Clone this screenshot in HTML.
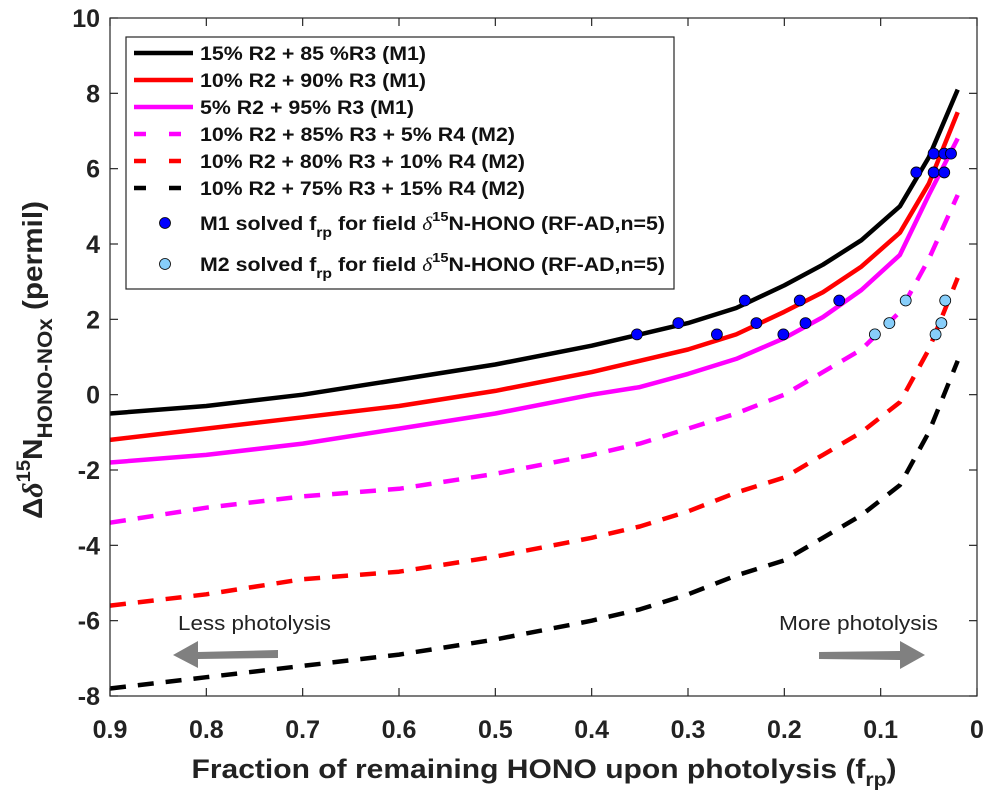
<!DOCTYPE html>
<html><head><meta charset="utf-8"><style>
html,body{margin:0;padding:0;background:#fff;}
svg{display:block;font-family:"Liberation Sans",Arial,sans-serif;}
</style></head><body>
<svg id="chart" width="995" height="803" viewBox="0 0 995 803" xmlns="http://www.w3.org/2000/svg">
<rect width="995" height="803" fill="#fff"/>
<g id="grid"></g>
<g id="series"></g>
<g id="points"></g>
<rect x="110" y="18" width="867" height="678" fill="none" stroke="#262626" stroke-width="1.2"/>
<g>
<rect x="126" y="37" width="548" height="252" fill="#fff" stroke="#262626" stroke-width="1.2"/>
<g id="legend-items" font-weight="bold" font-size="19" fill="#111"></g>
</g>
<g transform="translate(42,360) rotate(-90)" font-weight="bold" fill="#222">
<text text-anchor="middle" font-size="28" textLength="318" lengthAdjust="spacingAndGlyphs">Δ<tspan font-style="italic" font-family="Liberation Serif">δ</tspan><tspan font-size="19" dy="-12">15</tspan><tspan dy="12">N</tspan><tspan font-size="21" dy="10">HONO-NOx</tspan><tspan dy="-10"> (permil)</tspan></text>
</g>
<text x="544" y="778" text-anchor="middle" font-weight="bold" font-size="27" fill="#222" textLength="705" lengthAdjust="spacingAndGlyphs">Fraction of remaining HONO upon photolysis (f<tspan font-size="19" dy="8">rp</tspan><tspan dy="-8">)</tspan></text>
<g>
<text x="178" y="630" font-size="20" fill="#222" textLength="153" lengthAdjust="spacingAndGlyphs">Less photolysis</text>
<polygon points="278,650 198,652 198,641 173,655 198,668 198,659 278,658" fill="#808080"/>
</g>
<g>
<text x="779" y="630" font-size="20" fill="#222" textLength="159" lengthAdjust="spacingAndGlyphs">More photolysis</text>
<polygon points="819,652 900,651 900,641 925,655 900,669 900,660 819,659" fill="#808080"/>
</g>
</svg>
<script>
const fVals = [0.9,0.8,0.7,0.6,0.5,0.4,0.35,0.3,0.25,0.2,0.16,0.12,0.08,0.05,0.02];
const m1k15 = [-0.5,-0.3,0.0,0.4,0.8,1.3,1.6,1.9,2.3,2.9,3.45,4.1,5.0,6.3,8.1];
const m1k10 = [-1.2,-0.9,-0.6,-0.3,0.1,0.6,0.9,1.2,1.6,2.2,2.72,3.4,4.3,5.6,7.5];
const m1k5  = [-1.8,-1.6,-1.3,-0.9,-0.5,0.0,0.2,0.55,0.95,1.5,2.06,2.78,3.71,5.3,6.8];
const m2r5  = [-3.4,-3.0,-2.7,-2.5,-2.1,-1.6,-1.3,-0.9,-0.5,0.0,0.6,1.2,2.2,3.6,5.3];
const m2r10 = [-5.6,-5.3,-4.9,-4.7,-4.3,-3.8,-3.5,-3.1,-2.6,-2.2,-1.6,-1.0,-0.2,1.2,3.1];
const m2r15 = [-7.8,-7.5,-7.2,-6.9,-6.5,-6.0,-5.7,-5.3,-4.8,-4.4,-3.8,-3.2,-2.4,-1.0,0.9];
const m1F = [0.353,0.31,0.27,0.241,0.229,0.201,0.184,0.178,0.143,0.063,0.045,0.034,0.045,0.034,0.027];
const m1D = [1.6,1.9,1.6,2.5,1.9,1.6,2.5,1.9,2.5,5.9,5.9,5.9,6.4,6.4,6.4];
const m2F = [0.106,0.091,0.074,0.043,0.037,0.033];
const m2D = [1.6,1.9,2.5,1.6,1.9,2.5];
const xTicks = [0.9,0.8,0.7,0.6,0.5,0.4,0.3,0.2,0.1,0];
const xTickLabels = ["0.9","0.8","0.7","0.6","0.5","0.4","0.3","0.2","0.1","0"];
const yTicks = [-8,-6,-4,-2,0,2,4,6,8,10];
const yTickLabels = ["-8","-6","-4","-2","0","2","4","6","8","10"];
const legendLabels = ["15% R2 + 85 %R3 (M1)","10% R2 + 90% R3 (M1)","5% R2 + 95% R3 (M1)","10% R2 + 85% R3 + 5% R4 (M2)","10% R2 + 80% R3 + 10% R4 (M2)","10% R2 + 75% R3 + 15% R4 (M2)"];

const X0=110,X1=977,Y0=18,Y1=696;
const xs = f => X1 - (f/0.9)*(X1-X0);
const ys = v => Y1 - (v+8)/18*(Y1-Y0);
const NS="http://www.w3.org/2000/svg";
function mk(tag, attrs, parent){const e=document.createElementNS(NS,tag);for(const k in attrs)e.setAttribute(k,attrs[k]);parent.appendChild(e);return e;}

const grid=document.getElementById('grid');
xTicks.forEach((t,i)=>{
  const x=xs(t);
  const a=mk('line',{x1:x,x2:x,y1:Y1,y2:Y1-8,stroke:'#262626','stroke-width':1.2},grid);
  
  
  const b=mk('line',{x1:x,x2:x,y1:Y0,y2:Y0+8,stroke:'#262626','stroke-width':1.2},grid);
  
  
  const tx=mk('text',{x:x,y:738,'text-anchor':'middle','font-size':25,'font-weight':'bold',fill:'#222'},grid);
  tx.textContent=xTickLabels[i];
  
  
});
yTicks.forEach((t,i)=>{
  const y=ys(t);
  const a=mk('line',{x1:X0,x2:X0+8,y1:y,y2:y,stroke:'#262626','stroke-width':1.2},grid);
  
  
  const b=mk('line',{x1:X1,x2:X1-8,y1:y,y2:y,stroke:'#262626','stroke-width':1.2},grid);
  
  
  const tx=mk('text',{x:100,y:y+9,'text-anchor':'end','font-size':25,'font-weight':'bold',fill:'#222'},grid);
  tx.textContent=yTickLabels[i];
  
  
});

const seriesDefs=[
  [m1k15,'#000',null,'line-15pct-r2-m1'],
  [m1k10,'#ff0000',null,'line-10pct-r2-m1'],
  [m1k5,'#ff00ff',null,'line-5pct-r2-m1'],
  [m2r5,'#ff00ff','16 12','line-5pct-r4-m2'],
  [m2r10,'#ff0000','16 12','line-10pct-r4-m2'],
  [m2r15,'#000','16 12','line-15pct-r4-m2']
];
const sg=document.getElementById('series');
seriesDefs.forEach(s=>{
  const d=fVals.map((f,i)=>(i?'L':'M')+xs(f).toFixed(1)+','+ys(s[0][i]).toFixed(1)).join(' ');
  const attrs={d:d,fill:'none',stroke:s[1],'stroke-width':4.5,'stroke-linejoin':'round'};
  if(s[2])attrs['stroke-dasharray']=s[2];
  const p=mk('path',attrs,sg);
  
  
});
const pg=document.getElementById('points');
m1F.forEach((f,i)=>{
  const c=mk('circle',{cx:xs(f),cy:ys(m1D[i]),r:5.5,fill:'#0000ff',stroke:'#000','stroke-width':0.8},pg);
  
  
});
m2F.forEach((f,i)=>{
  const c=mk('circle',{cx:xs(f),cy:ys(m2D[i]),r:5.5,fill:'#87cefa',stroke:'#000','stroke-width':0.8},pg);
  
  
});

const lg=document.getElementById('legend-items');
const rowY=[53,80,107,134,161,188];
const legW=[226,226,214,315,325,325];
legendLabels.forEach((lab,i)=>{
  const s=seriesDefs[i];
  const la={x1:134,x2:193,y1:rowY[i],y2:rowY[i],stroke:s[1],'stroke-width':4.5};
  if(s[2])la['stroke-dasharray']='12 23';
  const l=mk('line',la,lg);
  
  
  const t=mk('text',{x:200,y:rowY[i]+7,textLength:legW[i],lengthAdjust:'spacingAndGlyphs'},lg);
  t.textContent=lab;
  
  
});
[[223,'#0000ff','M1'],[264,'#87cefa','M2']].forEach(r=>{
  const c=mk('circle',{cx:165,cy:r[0],r:5.5,fill:r[1],stroke:'#000','stroke-width':0.8},lg);
  
  
  const t=mk('text',{x:200,y:r[0]+7,textLength:465,lengthAdjust:'spacingAndGlyphs'},lg);
  
  
  t.innerHTML=r[2]+' solved f<tspan font-size="14" dy="7">rp</tspan><tspan dy="-7"> for field </tspan><tspan font-style="italic" font-family="Liberation Serif" font-weight="normal">δ</tspan><tspan font-size="13" dy="-9">15</tspan><tspan dy="9">N-HONO (RF-AD,n=5)</tspan>';
});
</script>
</body></html>
